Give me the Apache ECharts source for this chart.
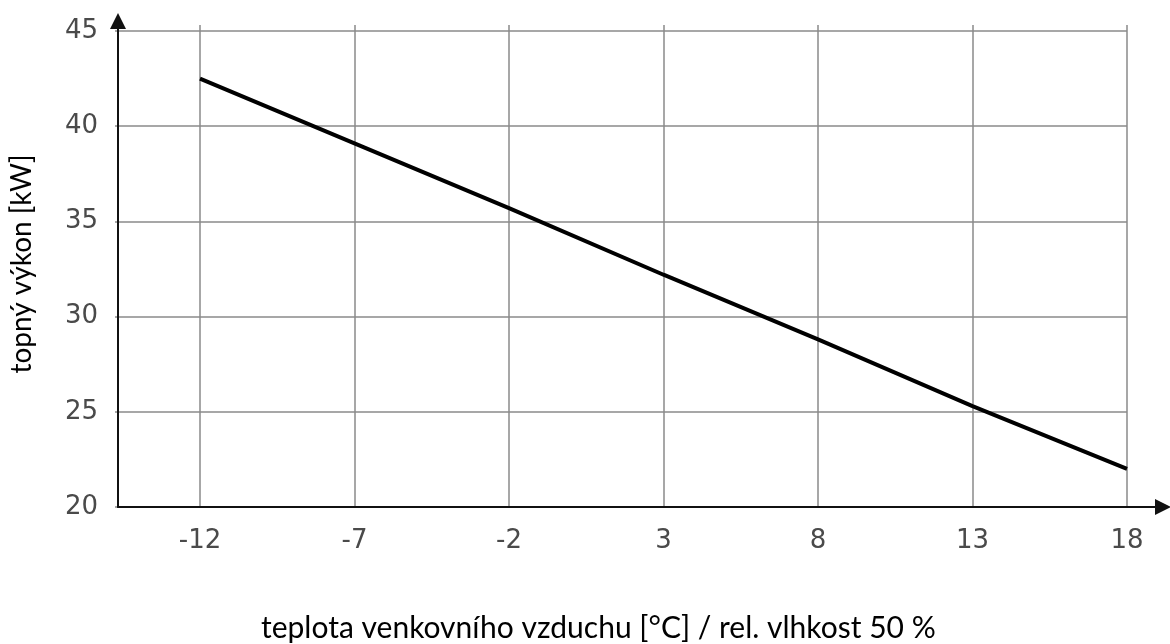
<!DOCTYPE html>
<html>
<head>
<meta charset="utf-8">
<script src="https://cdn.jsdelivr.net/npm/echarts@6/dist/echarts.min.js"></script>
<style>
    html, body { margin: 0; padding: 0; background: #fff; }
    #heatGraph { width: 1170px; height: 644px; }
</style>
</head>
<body>
<div id="heatGraph"></div>
<script>
// venkovni teplota [°C]
var tempTicks = [-12, -7, -2, 3, 8, 13, 18];
// topny vykon [kW]
var heatOutput = [42.5, 39.1, 35.7, 32.2, 28.8, 25.3, 22.0];
var yTicks = [20, 25, 30, 35, 40, 45];

var xName = 'teplota venkovního vzduchu [°C] / rel. vlhkost 50 %';
var yName = 'topný výkon [kW]';

var heatGraph = echarts.init(document.getElementById('heatGraph'));

var lineData = [];
for (var i = 0; i < tempTicks.length; i++) {
    lineData.push([tempTicks[i], heatOutput[i]]);
}

var gridColor = '#8a8a8a';
var tickFont = { color: '#4a4a4a', fontSize: 26, fontFamily: 'DejaVu Sans' };

var option = {
    animation: false,
    backgroundColor: '#fff',
    title: {
        text: xName,
        left: 256,
        top: 608,
        textStyle: { fontFamily: 'Lato', fontWeight: 'normal', fontSize: 30, color: '#000' }
    },
    grid: [
        // osy se sipkami
        { left: 115, right: 7, top: 21, bottom: 137 },
        // vodorovne cary + popisky y
        { left: 115, right: 43, top: 31, bottom: 137 },
        // svisle cary + popisky x
        { left: 200, right: 43, top: 25, bottom: 137 }
    ],
    xAxis: [
        {
            gridIndex: 0, type: 'value', min: 0, max: 1,
            axisLine: { show: true, lineStyle: { color: '#111', width: 2 }, symbol: ['none', 'triangle'], symbolSize: [16, 16] },
            axisTick: { show: false }, axisLabel: { show: false }, splitLine: { show: false }
        },
        {
            gridIndex: 1, type: 'value', min: -14.75, max: 18, show: false
        },
        {
            gridIndex: 2, type: 'value', min: tempTicks[0], max: tempTicks[tempTicks.length - 1], interval: 5,
            axisLine: { show: false }, axisTick: { show: false },
            axisLabel: { margin: 21, fontSize: tickFont.fontSize, color: tickFont.color, fontFamily: tickFont.fontFamily,
                formatter: function(v) { return tempTicks.indexOf(v) >= 0 ? String(v) : ''; } },
            splitLine: { show: true, lineStyle: { color: gridColor, width: 1.5 } }
        }
    ],
    yAxis: [
        {
            gridIndex: 0, type: 'value', min: 0, max: 1,
            name: yName, nameLocation: 'middle', nameGap: 82, nameRotate: 90,
            nameTextStyle: { fontFamily: 'Lato', fontSize: 28, color: '#000' },
            axisLine: { show: true, lineStyle: { color: '#111', width: 2 }, symbol: ['none', 'triangle'], symbolSize: [16, 16] },
            axisTick: { show: false }, axisLabel: { show: false }, splitLine: { show: false }
        },
        {
            gridIndex: 1, type: 'value', min: yTicks[0], max: yTicks[yTicks.length - 1], interval: 5,
            axisLine: { show: false }, axisTick: { show: false },
            axisLabel: { margin: 17, fontSize: tickFont.fontSize, color: tickFont.color, fontFamily: tickFont.fontFamily },
            splitLine: { show: true, lineStyle: { color: gridColor, width: 1.5 } }
        },
        {
            gridIndex: 2, type: 'value', min: 0, max: 1, show: false
        }
    ],
    series: [
        {
            type: 'line',
            xAxisIndex: 1,
            yAxisIndex: 1,
            data: lineData,
            symbol: 'none',
            lineStyle: { color: '#000', width: 4 },
            z: 5
        }
    ]
};

heatGraph.setOption(option);
window.addEventListener('resize', function() {
    heatGraph.resize();
});
</script>
</body>
</html>
